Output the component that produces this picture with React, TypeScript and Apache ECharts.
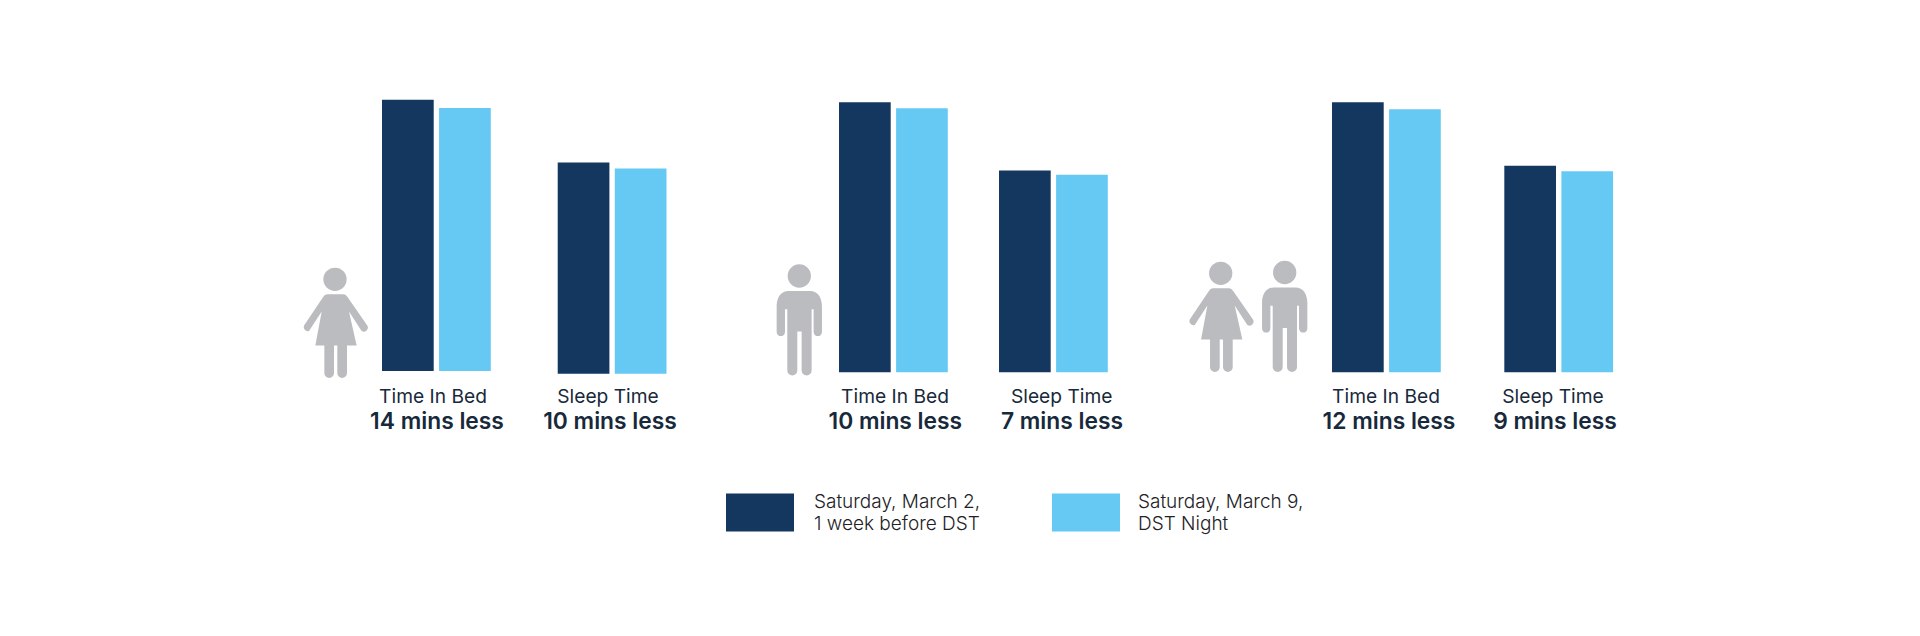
import React, { useEffect, useRef } from "react";
import * as echarts from "echarts";

const metricNames = ["Time In Bed", "Sleep Time", "Time In Bed", "Sleep Time", "Time In Bed", "Sleep Time"];
const differenceLabels = ["14 mins less", "10 mins less", "10 mins less", "7 mins less", "12 mins less", "9 mins less"];
const march2Minutes = [461, 359, 459, 343, 459, 351];
const march9Minutes = [447, 349, 449, 336, 447, 342];
const march2Name = "Saturday, March 2,\n1 week before DST";
const march9Name = "Saturday, March 9,\nDST Night";

const DARK = "#14375f";
const LIGHT = "#66c9f4";
const GREY = "#bbbcbf";
const SANS = "Inter, 'Noto Sans', sans-serif";

// layout: left edge of each pair, baseline, centres of the two label lines
const panels = [
  { left: 382, base: 371, c1: 433, c2: 437 },
  { left: 557.7, base: 373.7, c1: 608, c2: 610 },
  { left: 839, base: 372.3, c1: 895, c2: 895.3 },
  { left: 999, base: 372.3, c1: 1061.7, c2: 1062 },
  { left: 1332, base: 372.3, c1: 1386, c2: 1389 },
  { left: 1504.3, base: 372.3, c1: 1553, c2: 1555 },
];
const PAIR_W = 108.8;
const BAR_W = 51.7;
const PX_PER_AXIS = 294.1; // height of the 0-500 minute axis
const LABEL_TOP = 383;

const BOY =
  "M-35,0A35,35 0 1 0 35,0A35,35 0 1 0 -35,0Z" +
  "M-33,45C-55,45 -68,65 -68,90V168A12.5,12.5 0 0 0 -43,168V100H-36V284A15,15 0 0 0 -6,284V167H7V284A15,15 0 0 0 37,284V100H43V168A12.5,12.5 0 0 0 68,168V90C68,65 55,45 33,45Z";
const GIRL =
  "M-35,0A35,35 0 1 0 35,0A35,35 0 1 0 -35,0Z" +
  "M-22,45L24,45C32,45 35,50 38,54L97,139A12,12 0 0 1 80,155L42,97L65,199H36V282A14.5,14.5 0 0 1 7,282V199H-3V282A14.5,14.5 0 0 1 -32,282V199H-59L-40,97L-78,155A12,12 0 0 1 -93,139L-36,54C-32,48 -29,45 -22,45Z";

echarts.graphic.registerShape("girlFigure", echarts.graphic.extendPath(GIRL, {}));
echarts.graphic.registerShape("boyFigure", echarts.graphic.extendPath(BOY, {}));

const figure = (type: string, x: number, y: number) => ({
  type,
  x,
  y,
  scaleX: 1 / 3,
  scaleY: 1 / 3,
  style: { fill: GREY },
});

export default function App() {
  const ref = useRef<HTMLDivElement>(null);
  useEffect(() => {
    const chart = echarts.init(ref.current!, undefined, { renderer: "svg" });
    const mkLegend = (name: string, left: number, gap: number) => ({
      data: [name],
      left,
      top: 490.5,
      padding: 0,
      orient: "horizontal",
      icon: "rect",
      itemWidth: 68,
      itemHeight: 38,
      selectedMode: false,
      textStyle: {
        fontFamily: SANS,
        fontSize: 19,
        fontWeight: 300,
        color: "#222226",
        lineHeight: 22,
        padding: [0, 0, 0, gap],
      },
    });
    chart.setOption({
      animation: false,
      backgroundColor: "#ffffff",
      legend: [mkLegend(march2Name, 726, 15), mkLegend(march9Name, 1052, 13)],
      grid: panels.map((p) => ({
        left: p.left,
        width: PAIR_W,
        top: p.base - PX_PER_AXIS,
        height: PX_PER_AXIS,
      })),
      xAxis: panels.map((p, i) => {
        const centre = p.left + PAIR_W / 2;
        const shift = (d: number) => (d >= 0 ? [0, 0, 0, 2 * d] : [0, -2 * d, 0, 0]);
        return {
          type: "category",
          gridIndex: i,
          data: [metricNames[i]],
          axisLine: { show: false },
          axisTick: { show: false },
          axisLabel: {
            margin: LABEL_TOP - p.base,
            interval: 0,
            verticalAlign: "top",
            formatter: (v: string) => `{a|${v}}\n{b|${differenceLabels[i]}}`,
            rich: {
              a: {
                fontFamily: SANS,
                fontSize: 19.2,
                fontWeight: 400,
                color: "#17293a",
                lineHeight: 25,
                padding: shift(p.c1 - centre),
              },
              b: {
                fontFamily: SANS,
                fontSize: 22.8,
                fontWeight: 600,
                color: "#17293a",
                lineHeight: 25,
                padding: shift(p.c2 - centre),
              },
            },
          },
        };
      }),
      yAxis: panels.map((_, i) => ({
        type: "value",
        gridIndex: i,
        min: 0,
        max: 500,
        show: false,
      })),
      series: panels.flatMap((_, i) => [
        {
          type: "bar",
          name: march2Name,
          xAxisIndex: i,
          yAxisIndex: i,
          data: [march2Minutes[i]],
          barWidth: BAR_W,
          barGap: "10.4%",
          itemStyle: { color: DARK },
        },
        {
          type: "bar",
          name: march9Name,
          xAxisIndex: i,
          yAxisIndex: i,
          data: [march9Minutes[i]],
          barWidth: BAR_W,
          barGap: "10.4%",
          itemStyle: { color: LIGHT },
        },
      ]),
      graphic: [
        figure("girlFigure", 335, 279.3),
        figure("boyFigure", 799.3, 276),
        figure("girlFigure", 1220.7, 273.3),
        figure("boyFigure", 1284.7, 272.5),
      ],
    });
    return () => chart.dispose();
  }, []);
  return (
    <div
      ref={ref}
      style={{ position: "absolute", left: 0, top: 0, width: 1920, height: 636, background: "#fff" }}
    />
  );
}
